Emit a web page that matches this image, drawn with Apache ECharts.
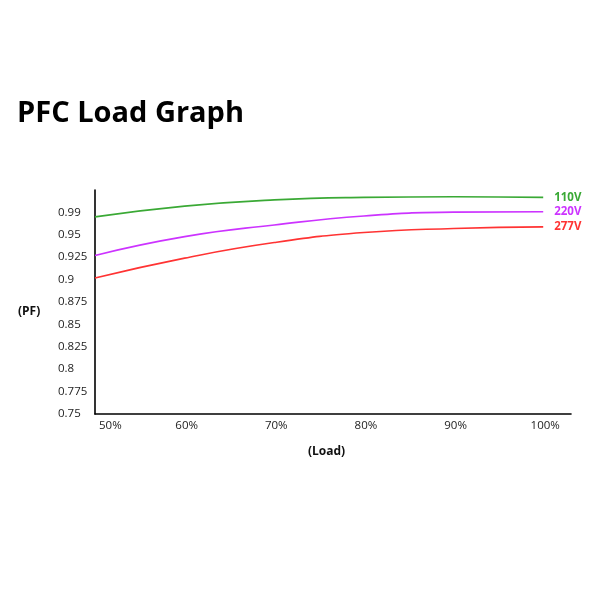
<!DOCTYPE html>
<html>
<head>
<meta charset="utf-8">
<title>PFC Load Graph</title>
<script src="https://cdn.jsdelivr.net/npm/echarts@6/dist/echarts.min.js"></script>
<style>
    html, body {margin: 0; padding: 0; background: #fff;}
    #chart {width: 600px; height: 600px;}
</style>
</head>
<body>
<div id="chart"></div>
<script>
    // 负载 (%)
    var loads = [50, 60, 70, 80, 90, 100];

    // 功率因数
    var pf110 = [0.970, 0.982, 0.989, 0.9918, 0.9925, 0.9918];
    var pf220 = [0.927, 0.948, 0.961, 0.971, 0.9753, 0.9757];
    var pf277 = [0.9017, 0.924, 0.9414, 0.9525, 0.9571, 0.9589];

    // y轴刻度文字 (0.75 起, 每 0.025 一格)
    var yTickLabels = ['0.75', '0.775', '0.8', '0.825', '0.85', '0.875', '0.9', '0.925', '0.95', '0.99', ''];

    var fontFamily = '"Open Sans", Lato, sans-serif';

    function pairs(values) {
        return loads.map(function (x, i) {
            return [x, values[i]];
        });
    }

    function lineSeries(name, color, values) {
        return {
            name: name,
            type: 'line',
            smooth: 0.5,
            symbol: 'none',
            lineStyle: {color: color, width: 1.6},
            itemStyle: {color: color},
            endLabel: {
                show: true,
                formatter: '{a}',
                color: color,
                fontWeight: 'bold',
                fontSize: 11.5,
                fontFamily: fontFamily,
                distance: 11
            },
            data: pairs(values)
        };
    }

    var chart = echarts.init(document.getElementById('chart'));
    chart.setOption({
        animation: false,
        title: [
            {
                text: 'PFC Load Graph',
                left: 12,
                top: 94,
                textStyle: {fontSize: 29, fontWeight: 'bold', color: '#000', fontFamily: fontFamily}
            },
            {
                text: '(PF)',
                left: 13,
                top: 301,
                textStyle: {fontSize: 12, fontWeight: 'bold', color: '#111', fontFamily: fontFamily}
            },
            {
                text: '(Load)',
                left: 303,
                top: 441,
                textStyle: {fontSize: 12, fontWeight: 'bold', color: '#111', fontFamily: fontFamily}
            }
        ],
        grid: {left: 95, right: 29, top: 190, bottom: 186},
        xAxis: {
            type: 'value',
            min: 50,
            max: 103.1,
            interval: 10,
            axisLine: {show: true, lineStyle: {color: '#000', width: 1.6}},
            axisTick: {show: false},
            splitLine: {show: false},
            axisLabel: {
                color: '#222',
                fontSize: 11.5,
                fontFamily: fontFamily,
                margin: 6,
                padding: [0, 0, 0, 4],
                showMaxLabel: false,
                alignMinLabel: 'left',
                formatter: '{value}%'
            }
        },
        yAxis: {
            type: 'value',
            min: 0.75,
            max: 1.0,
            interval: 0.025,
            axisLine: {show: true, lineStyle: {color: '#000', width: 1.6}},
            axisTick: {show: false},
            splitLine: {show: false},
            axisLabel: {
                color: '#222',
                fontSize: 11.5,
                fontFamily: fontFamily,
                align: 'left',
                margin: 37,
                formatter: function (v) {
                    var idx = Math.round((v - 0.75) / 0.025);
                    return yTickLabels[idx] || '';
                }
            }
        },
        series: [
            lineSeries('110V', '#3aa935', pf110),
            lineSeries('220V', '#cc33ff', pf220),
            lineSeries('277V', '#ff3333', pf277)
        ]
    });
</script>
</body>
</html>
